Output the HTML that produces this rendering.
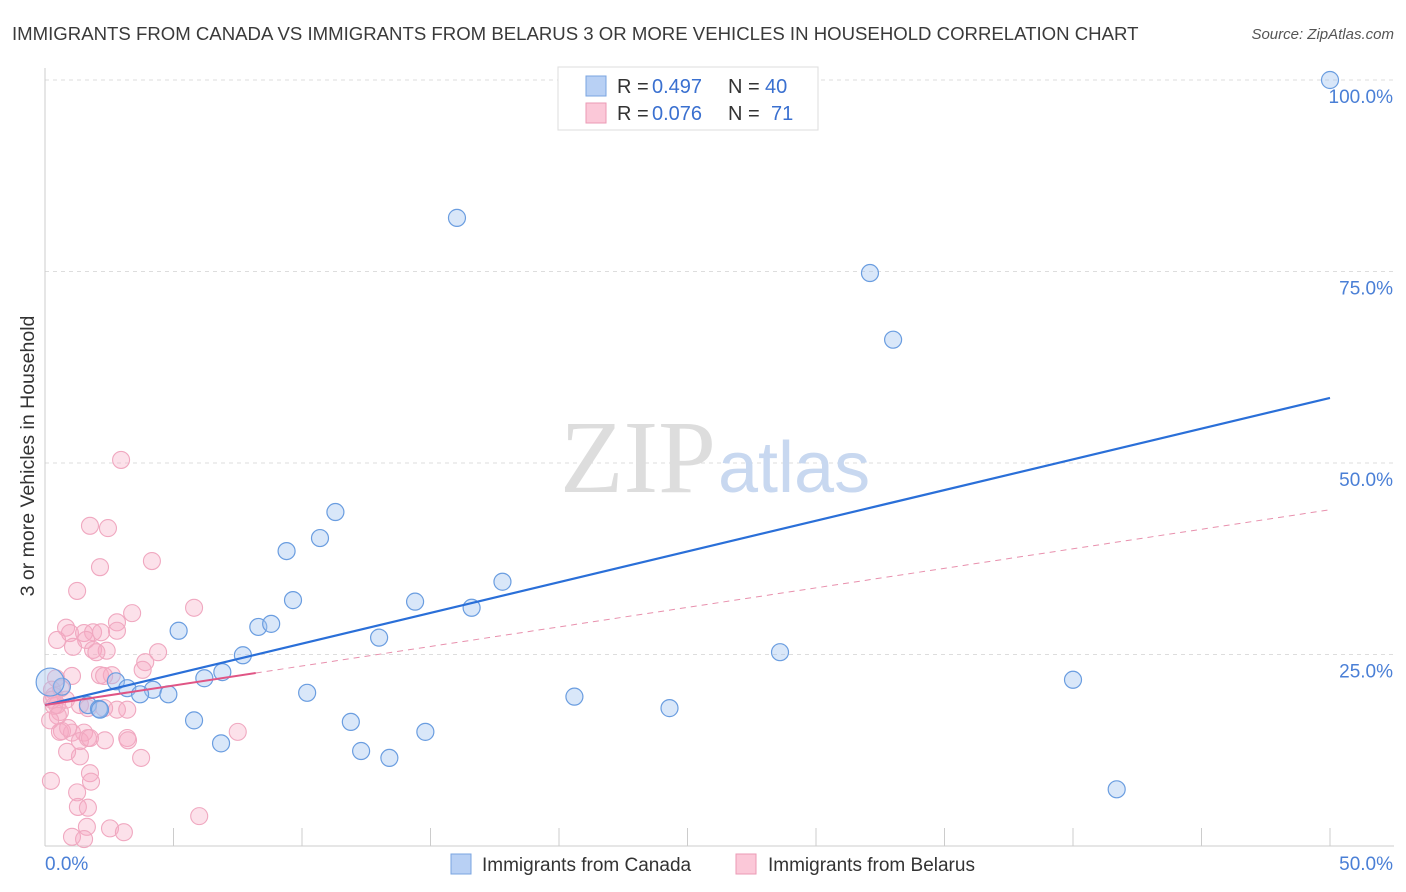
<!DOCTYPE html>
<html><head><meta charset="utf-8"><style>
body{margin:0;background:#fff;font-family:"Liberation Sans",sans-serif;}
svg{display:block}
</style></head><body>
<svg id="c" width="1406" height="892" xmlns="http://www.w3.org/2000/svg">
<text x="12" y="40" font-size="18.6" fill="#3a3a3a">IMMIGRANTS FROM CANADA VS IMMIGRANTS FROM BELARUS 3 OR MORE VEHICLES IN HOUSEHOLD CORRELATION CHART</text>
<text x="1394" y="39" font-size="15" fill="#555" font-style="italic" text-anchor="end">Source: ZipAtlas.com</text>
<text x="34" y="456" font-size="19.5" fill="#333" text-anchor="middle" transform="rotate(-90 34 456)">3 or more Vehicles in Household</text>
<g id="grid"></g>
<text x="716" y="492" font-size="104" fill="#ddd" font-family="Liberation Serif,serif" text-anchor="end">ZIP</text>
<text x="718" y="492" font-size="72" fill="#c8d8f0" text-anchor="start">atlas</text>
<g id="pts"></g>
<g id="lines"></g>
<g>
<rect x="558" y="67" width="260" height="63" fill="#fff" stroke="#ddd"/>
<rect x="586" y="76" width="20" height="20" fill="#b8d0f4" stroke="#7aa4e0"/>
<rect x="586" y="103" width="20" height="20" fill="#fbc8d8" stroke="#eb9ab5"/>
<text x="617" y="93" font-size="20" fill="#333">R =</text>
<text x="652" y="93" font-size="20" fill="#3a70d0">0.497</text>
<text x="728" y="93" font-size="20" fill="#333">N =</text>
<text x="765" y="93" font-size="20" fill="#3a70d0">40</text>
<text x="617" y="120" font-size="20" fill="#333">R =</text>
<text x="652" y="120" font-size="20" fill="#3a70d0">0.076</text>
<text x="728" y="120" font-size="20" fill="#333">N =</text>
<text x="771" y="120" font-size="20" fill="#3a70d0">71</text>
</g>
<g>
<rect x="451" y="854" width="20" height="20" fill="#b8d0f4" stroke="#7aa4e0"/>
<text x="482" y="871" font-size="19" fill="#333">Immigrants from Canada</text>
<rect x="736" y="854" width="20" height="20" fill="#fbc8d8" stroke="#eb9ab5"/>
<text x="768" y="871" font-size="19" fill="#333">Immigrants from Belarus</text>
</g>
</svg>
<script>
const yTicks=[100,75,50,25];
const yTickLabels=["100.0%","75.0%","50.0%","25.0%"];
const xTicks=[0,5,10,15,20,25,30,35,40,45,50];
const xLabels=["0.0%","50.0%"];
const canadaX=[50,16.03,32.1,33.0,11.3,10.7,9.4,17.8,9.65,14.4,16.6,5.2,8.3,8.8,13.0,7.7,28.6,6.9,6.2,2.76,3.2,4.2,4.8,3.7,10.2,20.6,40.0,0.66,1.67,2.1,24.3,5.8,11.9,6.85,12.3,13.4,14.8,41.7,0.2,2.14];
const canadaY=[100,82.0,74.8,66.1,43.6,40.2,38.5,34.5,32.1,31.9,31.1,28.1,28.6,29.0,27.2,24.9,25.3,22.7,21.9,21.5,20.6,20.4,19.8,19.8,20.0,19.5,21.7,20.8,18.4,17.9,18.0,16.4,16.2,13.4,12.4,11.5,14.9,7.4,21.4,17.8];
const belarusX=[2.96,1.75,2.45,2.14,4.16,1.25,3.39,5.8,2.8,0.82,0.97,1.52,1.87,2.18,1.6,0.47,1.09,1.87,2.4,2.0,2.8,4.4,3.9,3.8,2.14,1.05,0.43,2.6,0.62,0.27,0.35,0.47,0.58,0.82,1.36,1.67,2.8,2.3,0.35,0.66,1.05,1.52,0.58,0.9,1.36,1.67,2.33,3.2,1.75,3.2,7.5,3.23,3.74,1.36,1.75,1.79,0.23,1.25,1.28,1.67,6.0,1.63,2.53,3.07,1.05,1.52,0.27,0.5,0.2,0.86,2.3];
const belarusY=[50.4,41.8,41.5,36.4,37.2,33.3,30.4,31.1,29.2,28.5,27.8,27.8,27.9,27.9,26.9,26.9,26.0,25.6,25.5,25.3,28.1,25.3,24.0,23.0,22.3,22.2,21.9,22.3,20.6,20.4,19.6,18.4,17.5,19.1,18.4,18.0,17.8,18.0,18.3,15.0,14.8,14.8,14.9,15.4,13.7,14.1,13.8,14.1,14.1,17.8,14.9,13.8,11.5,11.7,9.5,8.4,8.5,7.0,5.1,5.0,3.9,2.5,2.3,1.8,1.2,0.9,19.1,17.0,16.4,12.3,22.2];
const canadaTrend=[18.4,0.802];
const belarusTrend=[18.4,0.51];
const sx=v=>45+v*25.7, sy=v=>846-v*7.66;
const NS="http://www.w3.org/2000/svg";
function mk(t,a,p){const e=document.createElementNS(NS,t);for(const k in a)e.setAttribute(k,a[k]);p.appendChild(e);return e;}
const svg=document.getElementById('c'),grid=document.getElementById('grid'),pts=document.getElementById('pts'),lines=document.getElementById('lines');
yTicks.forEach((t,i)=>{
 const l=mk('line',{x1:45,x2:1394,y1:sy(t),y2:sy(t),stroke:'#ddd','stroke-dasharray':'4,4'},grid);
 
 
 const tx=mk('text',{x:1393,y:sy(t)+23,'font-size':19,fill:'#4a7fd6','text-anchor':'end'},grid);
 tx.textContent=yTickLabels[i];
 
 
});
const ax=mk('line',{x1:45,x2:1394,y1:846,y2:846,stroke:'#ccc'},grid);


const ay=mk('line',{x1:45,x2:45,y1:68,y2:846,stroke:'#ccc'},grid);


xTicks.forEach(t=>{
 const l=mk('line',{x1:sx(t),x2:sx(t),y1:828,y2:846,stroke:'#ccc'},grid);
 
 
});
[[0,'start',45],[50,'end',1393]].forEach((d,i)=>{
 const tx=mk('text',{x:d[2],y:870,'font-size':19,fill:'#4a7fd6','text-anchor':d[1]},grid);
 tx.textContent=xLabels[i];
 
 
});
belarusX.forEach((x,i)=>{
 const c=mk('circle',{cx:sx(x),cy:sy(belarusY[i]),r:8.5,fill:'rgba(246,170,196,0.35)',stroke:'#f0a8c0','stroke-width':1.1},pts);
 
 
});
canadaX.forEach((x,i)=>{
 const c=mk('circle',{cx:sx(x),cy:sy(canadaY[i]),r:i==38?14:8.5,fill:'rgba(160,196,240,0.4)',stroke:'#6a9de0','stroke-width':1.2},pts);
 
 
});
const bl=mk('line',{x1:sx(0),y1:sy(canadaTrend[0]),x2:sx(50),y2:sy(canadaTrend[0]+50*canadaTrend[1]),stroke:'#2a6fd8','stroke-width':2.2},lines);


const pd=mk('line',{x1:sx(8.2),y1:sy(belarusTrend[0]+8.2*belarusTrend[1]),x2:sx(50),y2:sy(belarusTrend[0]+50*belarusTrend[1]),stroke:'#e890ad','stroke-width':1,'stroke-dasharray':'6,5'},lines);


const pl=mk('line',{x1:sx(0),y1:sy(belarusTrend[0]),x2:sx(8.2),y2:sy(belarusTrend[0]+8.2*belarusTrend[1]),stroke:'#e05585','stroke-width':2},lines);


</script>
</body></html>
